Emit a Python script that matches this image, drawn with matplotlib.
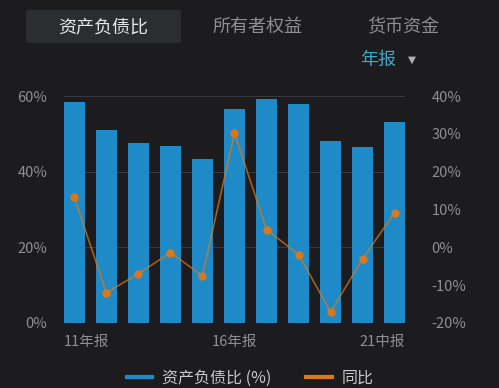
import matplotlib
matplotlib.use('Agg')
import matplotlib.pyplot as plt
from matplotlib.patches import FancyBboxPatch
from matplotlib.lines import Line2D
from matplotlib.transforms import blended_transform_factory

plt.rcParams['font.family'] = ['Noto Sans CJK SC', 'DejaVu Sans']

periods = ['11年报', '12年报', '13年报', '14年报', '15年报', '16年报',
           '17年报', '18年报', '19年报', '20年报', '21中报']
ratio = [58.3, 51.1, 47.6, 46.9, 43.4, 56.5, 59.1, 57.9, 48.0, 46.6, 53.0]
yoy = [13.3, -12.0, -7.0, -1.4, -7.5, 30.2, 4.7, -1.9, -17.1, -3.0, 9.2]
left_ticks = [0, 20, 40, 60]
right_ticks = [-20, -10, 0, 10, 20, 30, 40]

bg = '#1c1c1e'
grey = '#8e8e93'
blue = '#1e8ac8'
orange = '#d9791c'

W, H = 499, 388
fig = plt.figure(figsize=(W / 100, H / 100), dpi=100, facecolor=bg)

# tabs
fig.patches.append(FancyBboxPatch((26 / W, 1 - 43 / H), 155 / W, 33 / H,
                                  boxstyle='round,pad=0,rounding_size=0.005',
                                  transform=fig.transFigure, facecolor='#2b2d31',
                                  edgecolor='none'))
fig.text(103 / W, 1 - 27 / H, '资产负债比', color='#e6e6e6', fontsize=13, ha='center', va='center')
fig.text(257 / W, 1 - 27 / H, '所有者权益', color=grey, fontsize=13, ha='center', va='center')
fig.text(403 / W, 1 - 27 / H, '货币资金', color=grey, fontsize=13, ha='center', va='center')
fig.text(378 / W, 1 - 60 / H, '年报', color='#3fa9c9', fontsize=13, ha='center', va='center')
fig.text(412 / W, 1 - 60 / H, '▼', color='#b0b0b4', fontsize=7.5, ha='center', va='center',
         family=['DejaVu Sans'])

ax = fig.add_axes([64 / W, (H - 323) / H, 341 / W, 227 / H])
ax.set_facecolor(bg)
x = list(range(len(periods)))
ax.bar(x, ratio, width=0.64, color=blue, zorder=2)
ax.set_xlim(-0.32, len(periods) - 1 + 0.32)
ax.set_ylim(0, 60)
ax.set_yticks(left_ticks)
ax.set_yticklabels([f'{t}%' for t in left_ticks])
for t in left_ticks:
    ax.axhline(t, color='#38383b', linewidth=0.8, zorder=1)
for s in ax.spines.values():
    s.set_visible(False)
ax.tick_params(axis='y', length=0, colors=grey, labelsize=10.5, pad=12)
ax.set_xticks([])

tr = blended_transform_factory(ax.transData, ax.transAxes)
ax.text(-0.32, -0.085, periods[0], transform=tr, ha='left', va='center', color=grey, fontsize=10.5)
ax.text(5, -0.085, periods[5], transform=tr, ha='center', va='center', color=grey, fontsize=10.5)
ax.text(10.32, -0.085, periods[10], transform=tr, ha='right', va='center', color=grey, fontsize=10.5)

ax2 = ax.twinx()
ax2.plot(x, yoy, color=orange, linewidth=1.2, alpha=0.7, zorder=3)
ax2.plot(x, yoy, 'o', color=orange, markersize=5, zorder=4)
ax2.set_ylim(-20, 40)
ax2.set_yticks(right_ticks)
ax2.set_yticklabels([f'{t}%' for t in right_ticks])
for s in ax2.spines.values():
    s.set_visible(False)
ax2.tick_params(axis='y', length=0, colors=grey, labelsize=10.5, pad=19)

# legend
handles = [Line2D([], [], color=blue, linewidth=3), Line2D([], [], color=orange, linewidth=3)]
fig.legend(handles, ['资产负债比 (%)', '同比'], loc='center', bbox_to_anchor=(250 / W, 1 - 378 / H),
           ncol=2, frameon=False, labelcolor='#c8c8cc', fontsize=11.5, handlelength=1.6,
           columnspacing=2.2, handletextpad=0.6)

fig.savefig('out.png', dpi=100, facecolor=bg)
